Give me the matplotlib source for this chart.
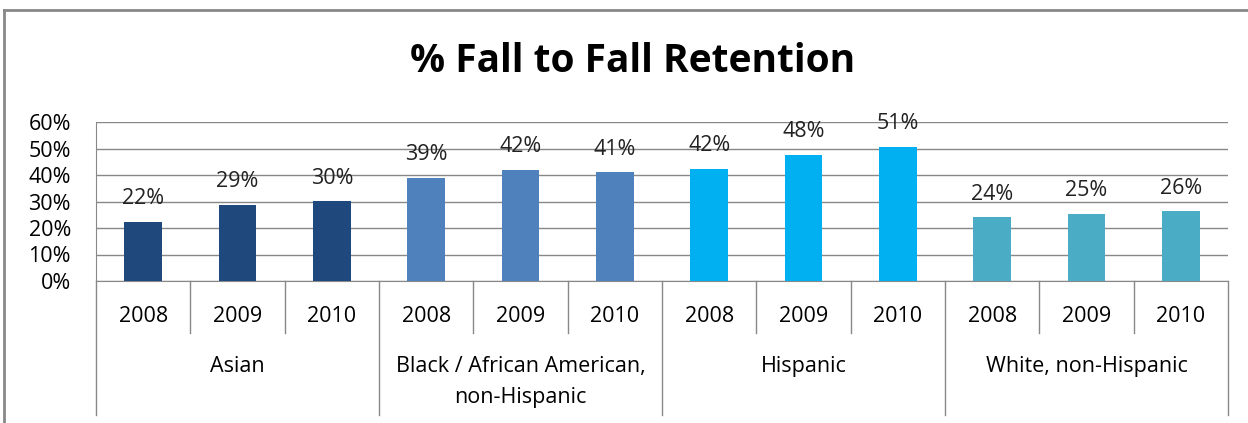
import matplotlib.pyplot as plt
import matplotlib.lines as mlines
import numpy as np

plt.rcParams['font.family'] = ['Open Sans', 'DejaVu Sans']

groups = ["Asian", "Black / African American,\nnon-Hispanic", "Hispanic", "White, non-Hispanic"]
years = ["2008", "2009", "2010"]
asian = [0.224, 0.287, 0.301]
black = [0.39, 0.42, 0.41]
hispanic = [0.424, 0.477, 0.506]
white = [0.24, 0.253, 0.264]
labels = ["22%", "29%", "30%", "39%", "42%", "41%", "42%", "48%", "51%", "24%", "25%", "26%"]
colors = ["#1F497D", "#4F81BD", "#00B0F0", "#4BACC6"]

values = asian + black + hispanic + white
bar_colors = [c for c in colors for _ in years]

fig = plt.figure(figsize=(12.48, 4.23), dpi=100)
ax = fig.add_axes([96/1248, 1 - 281/423, (1228 - 96)/1248, 159/423])

x = np.arange(len(values))
ax.bar(x, values, width=0.4, color=bar_colors, zorder=3)
for xi, v, lab in zip(x, values, labels):
    ax.annotate(lab, (xi, v), xytext=(0, 9), textcoords="offset points",
                ha="center", va="bottom", fontsize=15.5, color="#222222")

ax.set_xlim(-0.5, len(values) - 0.5)
ax.set_ylim(0, 0.6)
ax.set_yticks(np.arange(0, 0.61, 0.1))
ax.set_yticklabels([f"{int(round(t*100))}%" for t in np.arange(0, 0.61, 0.1)], fontsize=15.5)
ax.tick_params(axis="y", length=0, pad=18)
ax.tick_params(axis="x", length=0, labelbottom=False)
ax.grid(axis="y", color="#888888", linewidth=1, zorder=0)
for s in ["top", "right"]:
    ax.spines[s].set_visible(False)
ax.spines["left"].set_color("#888888")
ax.spines["bottom"].set_color("#888888")

tr = ax.get_xaxis_transform()
ah = 159.0
year_bot = -52 / ah
group_bot = -134 / ah
# separators for the two label rows
for i in range(len(values) + 1):
    bottom = group_bot if i % 3 == 0 else year_bot
    ax.plot([i - 0.5, i - 0.5], [0, bottom], transform=tr, color="#888888",
            linewidth=1, clip_on=False)
for xi in x:
    ax.text(xi, -35 / ah, years[xi % 3], transform=tr, ha="center", va="center", fontsize=15.5)
for gi, g in enumerate(groups):
    ax.text(gi * 3 + 1, -75 / ah, g, transform=tr, ha="center", va="top",
            fontsize=15.5, linespacing=1.65)

fig.text(633/1248, 1 - 62/423, "% Fall to Fall Retention", fontsize=28, fontweight="bold",
         ha="center", va="center")

# outer frame (top and left visible)
fig.add_artist(mlines.Line2D([4/1248, 1], [1 - 10/423, 1 - 10/423], color="#888888", linewidth=2))
fig.add_artist(mlines.Line2D([4/1248, 4/1248], [0, 1 - 10/423], color="#888888", linewidth=2))

fig.savefig("out.png", dpi=100)
